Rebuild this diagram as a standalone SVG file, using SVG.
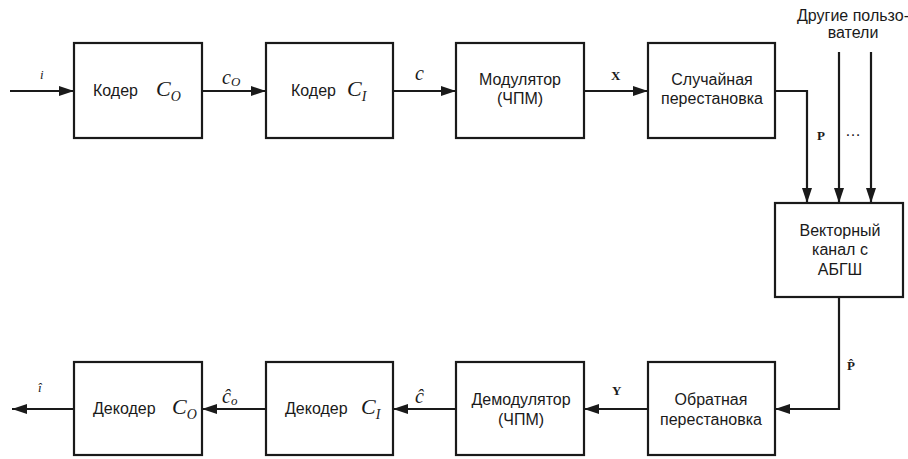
<svg xmlns="http://www.w3.org/2000/svg" width="908" height="459" viewBox="0 0 908 459">
<defs>
<marker id="ah" markerUnits="userSpaceOnUse" markerWidth="16" markerHeight="11" refX="15" refY="5" orient="auto">
<path d="M0,0 L15,5 L0,10 z" fill="#1a1a1a"/>
</marker>
<style>
.box{fill:#fff;stroke:#1a1a1a;stroke-width:2.2}
.ln{fill:none;stroke:#1a1a1a;stroke-width:2.2}
.t{font-family:"Liberation Sans",Arial,sans-serif;font-size:16px;fill:#1a1a1a;text-anchor:middle}
.tl{font-family:"Liberation Sans",Arial,sans-serif;font-size:16px;fill:#1a1a1a}
.m{font-family:"Liberation Serif","Times New Roman",serif;font-style:italic;fill:#1a1a1a}
.b{font-family:"Liberation Serif","Times New Roman",serif;font-weight:bold;font-size:13px;fill:#1a1a1a}
</style>
</defs>
<rect width="908" height="459" fill="#fff"/>
<g id="connectors">
<path class="ln" d="M10,91 H74" marker-end="url(#ah)"/>
<path class="ln" d="M202,91 H266" marker-end="url(#ah)"/>
<path class="ln" d="M393,91 H456" marker-end="url(#ah)"/>
<path class="ln" d="M584,91 H648" marker-end="url(#ah)"/>
<path class="ln" d="M775,91 H807 V203" marker-end="url(#ah)"/>
<path class="ln" d="M839,52 V203" marker-end="url(#ah)"/>
<path class="ln" d="M871,52 V203" marker-end="url(#ah)"/>
<path class="ln" d="M839,297 V409 H775" marker-end="url(#ah)"/>
<path class="ln" d="M648,409 H584" marker-end="url(#ah)"/>
<path class="ln" d="M456,409 H393" marker-end="url(#ah)"/>
<path class="ln" d="M266,409 H202" marker-end="url(#ah)"/>
<path class="ln" d="M74,409 H12" marker-end="url(#ah)"/>
</g>
<g id="labels">
<text class="m" x="40" y="79" font-size="13">i</text>
<text class="m" x="222" y="84" font-size="20">c<tspan font-size="13" dy="2">O</tspan></text>
<text class="m" x="415" y="80" font-size="20">c</text>
<text class="b" x="611" y="80">X</text>
<text class="b" x="817" y="140">P</text>
<text class="tl" x="845" y="136" font-size="14">…</text>
<text class="b" x="847" y="370">P̂</text>
<text class="b" x="612" y="395">Y</text>
<text class="m" x="38" y="392" font-size="13">î</text>
<text class="m" x="222" y="403" font-size="20">ĉ<tspan font-size="13" dy="2">o</tspan></text>
<text class="m" x="415" y="403" font-size="20">ĉ</text>
<text class="t" x="853" y="21" font-size="14">Другие пользо-</text>
<text class="t" x="853" y="38" font-size="14">ватели</text>
</g>
<g id="coder-co">
<rect class="box" x="74" y="43" width="128" height="95"/>
<text class="tl" x="93" y="96">Кодер</text>
<text class="m" x="156" y="96" font-size="22">C<tspan font-size="14" dy="5">O</tspan></text>
</g>
<g id="coder-ci">
<rect class="box" x="266" y="43" width="127" height="95"/>
<text class="tl" x="291" y="96">Кодер</text>
<text class="m" x="347" y="96" font-size="22">C<tspan font-size="14" dy="5">I</tspan></text>
</g>
<g id="modulator">
<rect class="box" x="456" y="43" width="128" height="95"/>
<text class="t" x="520" y="85">Модулятор</text>
<text class="t" x="520" y="104">(ЧПМ)</text>
</g>
<g id="permutation">
<rect class="box" x="648" y="43" width="127" height="95"/>
<text class="t" x="712" y="85">Случайная</text>
<text class="t" x="712" y="104">перестановка</text>
</g>
<g id="channel">
<rect class="box" x="775" y="203" width="128" height="94"/>
<text class="t" x="840" y="236">Векторный</text>
<text class="t" x="840" y="255">канал с</text>
<text class="t" x="840" y="275">АБГШ</text>
</g>
<g id="inv-permutation">
<rect class="box" x="648" y="362" width="127" height="93"/>
<text class="t" x="711" y="405">Обратная</text>
<text class="t" x="711" y="425">перестановка</text>
</g>
<g id="demodulator">
<rect class="box" x="456" y="362" width="128" height="93"/>
<text class="t" x="521" y="405">Демодулятор</text>
<text class="t" x="521" y="425">(ЧПМ)</text>
</g>
<g id="decoder-ci">
<rect class="box" x="266" y="362" width="127" height="93"/>
<text class="tl" x="285" y="414">Декодер</text>
<text class="m" x="361" y="414" font-size="22">C<tspan font-size="14" dy="5">I</tspan></text>
</g>
<g id="decoder-co">
<rect class="box" x="74" y="362" width="128" height="93"/>
<text class="tl" x="93" y="414">Декодер</text>
<text class="m" x="172" y="414" font-size="22">C<tspan font-size="14" dy="5">O</tspan></text>
</g>
</svg>
